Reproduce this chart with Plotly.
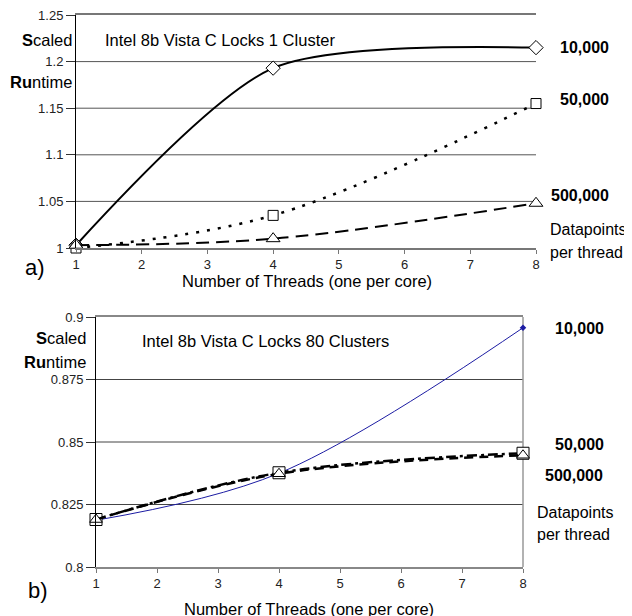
import plotly.graph_objects as go

# The page body adds an 8px margin, so the figure is drawn 8px smaller
# and all reference pixel positions are shifted by that amount.
OFF = 8
W, H = 632 - OFF, 616 - OFF

threads = [1, 4, 8]
x_ticks = [1, 2, 3, 4, 5, 6, 7, 8]

# Panel a) Intel 8b Vista C Locks 1 Cluster
a_10k = [1.003, 1.193, 1.215]
a_50k = [1.000, 1.035, 1.155]
a_500k = [1.003, 1.010, 1.048]
a_yticks = [1.0, 1.05, 1.1, 1.15, 1.2, 1.25]
a_ylabels = ["1", "1.05", "1.1", "1.15", "1.2", "1.25"]

# Panel b) Intel 8b Vista C Locks 80 Clusters
b_10k = [0.8187, 0.8375, 0.8957]
b_50k = [0.8190, 0.8377, 0.8455]
b_500k = [0.8190, 0.8373, 0.8447]
b_yticks = [0.8, 0.825, 0.85, 0.875, 0.9]
b_ylabels = ["0.8", "0.825", "0.85", "0.875", "0.9"]

FONT = "Liberation Sans, Arial, sans-serif"


def px(x):
    return (x - OFF) / W


def py(y):
    return 1 - (y - OFF) / H


fig = go.Figure()

# ---- panel a traces
fig.add_trace(go.Scatter(x=threads, y=a_10k, xaxis="x", yaxis="y", mode="lines+markers",
                         line=dict(color="black", width=2, shape="spline", smoothing=0.75),
                         marker=dict(symbol="diamond", size=11, color="white",
                                     line=dict(color="black", width=1)),
                         cliponaxis=False, showlegend=False))
fig.add_trace(go.Scatter(x=threads, y=a_50k, xaxis="x", yaxis="y", mode="lines+markers",
                         line=dict(color="black", width=2.5, dash="3px,8px", shape="spline", smoothing=1.0),
                         marker=dict(symbol="square", size=10, color="white",
                                     line=dict(color="black", width=1)),
                         cliponaxis=False, showlegend=False))
fig.add_trace(go.Scatter(x=threads, y=a_500k, xaxis="x", yaxis="y", mode="lines+markers",
                         line=dict(color="black", width=2, dash="13px,7px", shape="spline", smoothing=1.0),
                         marker=dict(symbol="triangle-up", size=12, color="white",
                                     line=dict(color="black", width=1)),
                         cliponaxis=False, showlegend=False))

# ---- panel b traces
fig.add_trace(go.Scatter(x=threads, y=b_10k, xaxis="x2", yaxis="y2", mode="lines+markers",
                         line=dict(color="#1c1ca3", width=1, shape="spline", smoothing=1.0),
                         marker=dict(symbol="diamond", size=5, color="#1c1ca3"),
                         cliponaxis=False, showlegend=False))
fig.add_trace(go.Scatter(x=threads, y=b_50k, xaxis="x2", yaxis="y2", mode="lines+markers",
                         line=dict(color="black", width=2.5, dash="10px,4px,3px,4px", shape="spline", smoothing=1.0),
                         marker=dict(symbol="square", size=12, color="white",
                                     line=dict(color="black", width=1)),
                         cliponaxis=False, showlegend=False))
fig.add_trace(go.Scatter(x=threads, y=b_500k, xaxis="x2", yaxis="y2", mode="lines+markers",
                         line=dict(color="black", width=2.5, dash="9px,6px", shape="spline", smoothing=1.0),
                         marker=dict(symbol="triangle-up", size=11, color="white",
                                     line=dict(color="black", width=1)),
                         cliponaxis=False, showlegend=False))

tickfont = dict(family=FONT, size=13, color="#222")

axis_common = dict(showgrid=False, zeroline=False, ticks="outside", tickfont=tickfont,
                   fixedrange=True, ticklabeloverflow="allow")

fig.update_layout(
    width=W, height=H, autosize=False,
    margin=dict(l=0, r=0, t=0, b=0),
    paper_bgcolor="white", plot_bgcolor="white",
    template="none",
    xaxis=dict(domain=[px(76), px(536)], anchor="y", range=[1, 8],
               tickvals=x_ticks, ticklen=4, tickcolor="#777", showline=True, mirror=True,
               linecolor="#777", linewidth=1.5, **axis_common),
    yaxis=dict(domain=[py(248), py(15)], anchor="x", range=[1, 1.25],
               tickvals=a_yticks, ticktext=a_ylabels, ticklen=9, tickcolor="#333",
               showline=True, linecolor="black", linewidth=1, **axis_common),
    xaxis2=dict(domain=[px(96), px(523)], anchor="y2", range=[1, 8],
                tickvals=x_ticks, ticklen=4, tickcolor="#777", showline=True, mirror=True,
                linecolor="#888", linewidth=1.5, **axis_common),
    yaxis2=dict(domain=[py(567), py(317)], anchor="x2", range=[0.8, 0.9],
                tickvals=b_yticks, ticktext=b_ylabels, ticklen=9, tickcolor="#333",
                showline=True, linecolor="black", linewidth=1, **axis_common),
)

# horizontal gridlines (drawn from the data ticks)
shapes = []
for v in a_yticks[1:-1]:
    shapes.append(dict(type="line", xref="x domain", yref="y", x0=0, x1=1, y0=v, y1=v,
                       line=dict(color="#555", width=1), layer="below"))
for v in b_yticks[1:-1]:
    shapes.append(dict(type="line", xref="x2 domain", yref="y2", x0=0, x1=1, y0=v, y1=v,
                       line=dict(color="#444", width=1), layer="below"))
shapes.append(dict(type="line", xref="x2 domain", yref="y2 domain", x0=1, x1=1, y0=0, y1=1,
                   line=dict(color="#999", width=1.5), layer="below"))
fig.update_layout(shapes=shapes)

ann = []


def add(text, x, y, xanchor="left", size=16.5, yanchor="middle"):
    ann.append(dict(text=text, x=px(x), y=py(y), xref="paper", yref="paper",
                    xanchor=xanchor, yanchor=yanchor, showarrow=False,
                    font=dict(family=FONT, size=size, color="black")))


# panel a texts
add("<b>S</b>caled", 74, 40, xanchor="right")
add("<b>Ru</b>ntime", 74, 82, xanchor="right")
add("Intel 8b Vista C Locks 1 Cluster", 103, 40)
add("<b>10,000</b>", 558, 48, size=16)
add("<b>50,000</b>", 558, 100, size=16)
add("<b>500,000</b>", 549, 195, size=16)
add("Datapoints", 548, 230, size=16)
add("per thread", 548, 252, size=16)
add("a)", 23, 268, size=22)
add("Number of Threads (one per core)", 307, 281, xanchor="center")

# panel b texts
add("<b>S</b>caled", 88, 338, xanchor="right")
add("<b>Ru</b>ntime", 88, 362, xanchor="right")
add("Intel 8b Vista C Locks 80 Clusters", 140, 341)
add("<b>10,000</b>", 553, 328, size=16)
add("<b>50,000</b>", 553, 444, size=16)
add("<b>500,000</b>", 543, 475, size=16)
add("Datapoints", 535, 512, size=16)
add("per thread", 535, 534, size=16)
add("b)", 26, 590, size=22)
add("Number of Threads (one per core)", 309, 609, xanchor="center")

fig.update_layout(annotations=ann)

fig.write_html("out.html")
